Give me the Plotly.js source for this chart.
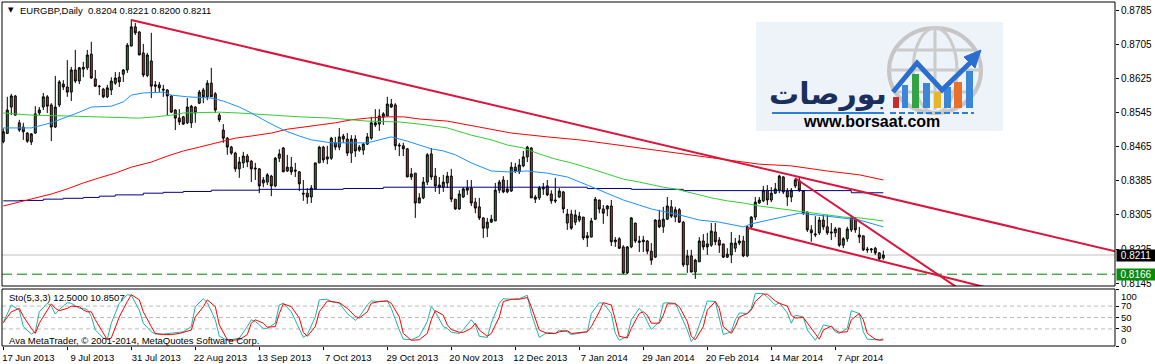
<!DOCTYPE html>
<html><head><meta charset="utf-8">
<script src="https://cdn.plot.ly/plotly-3.0.1.min.js"></script>
<style>html,body{margin:0;padding:0;background:#fff;overflow:hidden}#chart{width:1155px;height:364px}</style>
</head><body><div id="chart"></div>
<script>
// ---------------- DATA ----------------
const tickText = ['17 Jun 2013','9 Jul 2013','31 Jul 2013','22 Aug 2013','13 Sep 2013','7 Oct 2013','29 Oct 2013','20 Nov 2013','12 Dec 2013','7 Jan 2014','29 Jan 2014','20 Feb 2014','14 Mar 2014','7 Apr 2014'];
const tickBars = [0,16,32,48,64,80,96,112,128,144,160,176,192,208];

const open = [0.8477,0.8496,0.8558,0.8584,0.8521,0.8511,0.8497,0.8476,0.8497,0.8544,
0.8558,0.8582,0.8563,0.8511,0.8563,0.8612,0.8605,0.8593,0.8645,0.8619,
0.8647,0.8650,0.8682,0.8624,0.8607,0.8600,0.8582,0.8598,0.8614,0.8628,
0.8635,0.8645,0.8701,0.8746,0.8734,0.8685,0.8632,0.8666,0.8610,0.8610,
0.8600,0.8598,0.8584,0.8551,0.8532,0.8535,0.8521,0.8521,0.8558,0.8567,
0.8598,0.8582,0.8614,0.8589,0.8539,0.8504,0.8485,0.8464,0.8450,0.8413,
0.8427,0.8443,0.8431,0.8415,0.8413,0.8380,0.8382,0.8396,0.8373,0.8438,
0.8462,0.8408,0.8417,0.8410,0.8406,0.8356,0.8356,0.8347,0.8366,0.8427,
0.8464,0.8436,0.8438,0.8474,0.8464,0.8490,0.8483,0.8450,0.8483,0.8457,
0.8457,0.8471,0.8485,0.8516,0.8518,0.8535,0.8537,0.8565,0.8563,0.8469,
0.8467,0.8460,0.8394,0.8403,0.8333,0.8345,0.8382,0.8448,0.8396,0.8375,
0.8370,0.8380,0.8396,0.8342,0.8319,0.8347,0.8368,0.8368,0.8335,0.8324,
0.8298,0.8274,0.8288,0.8291,0.8363,0.8387,0.8359,0.8361,0.8417,0.8406,
0.8420,0.8441,0.8462,0.8347,0.8345,0.8366,0.8373,0.8354,0.8340,0.8347,
0.8359,0.8286,0.8307,0.8288,0.8293,0.8300,0.8251,0.8253,0.8295,0.8340,
0.8319,0.8319,0.8326,0.8242,0.8249,0.8230,0.8169,0.8230,0.8286,0.8244,
0.8242,0.8244,0.8220,0.8206,0.8293,0.8277,0.8295,0.8324,0.8300,0.8317,
0.8288,0.8188,0.8209,0.8171,0.8195,0.8244,0.8230,0.8234,0.8265,0.8246,
0.8237,0.8206,0.8211,0.8227,0.8239,0.8244,0.8209,0.8277,0.8300,0.8333,
0.8338,0.8363,0.8340,0.8356,0.8363,0.8394,0.8361,0.8347,0.8373,0.8385,
0.8361,0.8312,0.8270,0.8258,0.8263,0.8293,0.8277,0.8265,0.8263,0.8274,
0.8234,0.8249,0.8270,0.8295,0.8258,0.8256,0.8225,0.8223,0.8227,0.8216,
0.8204];
const high = [0.8508,0.8582,0.8589,0.8586,0.8528,0.8521,0.8499,0.8497,0.8560,0.8558,
0.8591,0.8586,0.8567,0.8631,0.8621,0.8621,0.8668,0.8652,0.8692,0.8652,
0.8664,0.8692,0.8711,0.8645,0.8610,0.8603,0.8610,0.8628,0.8640,0.8640,
0.8647,0.8708,0.8764,0.8755,0.8736,0.8706,0.8685,0.8732,0.8619,0.8617,
0.8610,0.8600,0.8586,0.8553,0.8553,0.8537,0.8579,0.8563,0.8560,0.8598,
0.8603,0.8621,0.8650,0.8593,0.8544,0.8518,0.8488,0.8467,0.8453,0.8441,
0.8453,0.8448,0.8434,0.8427,0.8415,0.8394,0.8403,0.8399,0.8441,0.8459,
0.8464,0.8446,0.8441,0.8427,0.8408,0.8387,0.8368,0.8375,0.8427,0.8467,
0.8467,0.8467,0.8488,0.8488,0.8509,0.8495,0.8497,0.8492,0.8492,0.8469,
0.8474,0.8497,0.8535,0.8553,0.8553,0.8546,0.8582,0.8577,0.8567,0.8474,
0.8474,0.8462,0.8415,0.8403,0.8356,0.8394,0.8450,0.8462,0.8415,0.8394,
0.8399,0.8406,0.8413,0.8342,0.8363,0.8370,0.8387,0.8387,0.8345,0.8345,
0.8300,0.8298,0.8305,0.8380,0.8387,0.8396,0.8387,0.8429,0.8427,0.8436,
0.8455,0.8467,0.8464,0.8352,0.8373,0.8380,0.8387,0.8363,0.8392,0.8368,
0.8361,0.8319,0.8317,0.8317,0.8312,0.8300,0.8265,0.8298,0.8347,0.8340,
0.8328,0.8328,0.8340,0.8253,0.8253,0.8234,0.8232,0.8300,0.8286,0.8256,
0.8256,0.8246,0.8239,0.8295,0.8317,0.8324,0.8347,0.8340,0.8324,0.8321,
0.8291,0.8223,0.8223,0.8202,0.8253,0.8260,0.8263,0.8286,0.8286,0.8253,
0.8237,0.8227,0.8265,0.8251,0.8258,0.8256,0.8279,0.8302,0.8347,0.8347,
0.8373,0.8375,0.8370,0.8380,0.8399,0.8396,0.8368,0.8368,0.8392,0.8394,
0.8363,0.8312,0.8281,0.8302,0.8300,0.8305,0.8305,0.8286,0.8277,0.8274,
0.8253,0.8277,0.8305,0.8300,0.8277,0.8256,0.8230,0.8227,0.8230,0.8218,
0.8221];
const low = [0.8473,0.8495,0.8539,0.8538,0.8500,0.8481,0.8474,0.8469,0.8495,0.8539,
0.8551,0.8544,0.8478,0.8509,0.8558,0.8598,0.8582,0.8572,0.8614,0.8612,
0.8628,0.8645,0.8624,0.8605,0.8586,0.8579,0.8579,0.8586,0.8610,0.8605,
0.8617,0.8638,0.8700,0.8727,0.8680,0.8628,0.8628,0.8579,0.8593,0.8593,
0.8582,0.8539,0.8544,0.8504,0.8516,0.8516,0.8518,0.8509,0.8521,0.8565,
0.8567,0.8574,0.8582,0.8544,0.8523,0.8474,0.8446,0.8446,0.8406,0.8392,
0.8415,0.8417,0.8382,0.8387,0.8356,0.8370,0.8375,0.8349,0.8370,0.8429,
0.8406,0.8406,0.8399,0.8394,0.8361,0.8338,0.8331,0.8333,0.8366,0.8427,
0.8427,0.8424,0.8434,0.8457,0.8457,0.8474,0.8443,0.8427,0.8441,0.8453,
0.8446,0.8469,0.8481,0.8511,0.8502,0.8516,0.8537,0.8556,0.8457,0.8443,
0.8443,0.8394,0.8387,0.8298,0.8333,0.8342,0.8375,0.8387,0.8359,0.8354,
0.8359,0.8368,0.8335,0.8317,0.8317,0.8345,0.8352,0.8326,0.8309,0.8293,
0.8251,0.8253,0.8286,0.8291,0.8356,0.8356,0.8356,0.8359,0.8403,0.8401,
0.8417,0.8429,0.8345,0.8333,0.8340,0.8352,0.8349,0.8331,0.8333,0.8345,
0.8309,0.8270,0.8270,0.8281,0.8288,0.8246,0.8230,0.8253,0.8293,0.8309,
0.8284,0.8302,0.8232,0.8230,0.8225,0.8166,0.8166,0.8227,0.8239,0.8218,
0.8218,0.8213,0.8188,0.8204,0.8274,0.8263,0.8293,0.8298,0.8288,0.8286,
0.8183,0.8169,0.8171,0.8155,0.8195,0.8223,0.8211,0.8230,0.8234,0.8216,
0.8204,0.8204,0.8192,0.8218,0.8234,0.8206,0.8206,0.8274,0.8293,0.8331,
0.8335,0.8328,0.8335,0.8354,0.8356,0.8354,0.8326,0.8335,0.8368,0.8359,
0.8305,0.8265,0.8242,0.8253,0.8258,0.8270,0.8258,0.8246,0.8253,0.8230,
0.8227,0.8242,0.8265,0.8263,0.8239,0.8220,0.8216,0.8216,0.8211,0.8199,
0.8200];
const close = [0.8500,0.8551,0.8584,0.8539,0.8504,0.8500,0.8478,0.8495,0.8542,0.8551,
0.8582,0.8560,0.8511,0.8558,0.8617,0.8605,0.8593,0.8645,0.8619,0.8650,
0.8651,0.8680,0.8626,0.8607,0.8606,0.8582,0.8603,0.8619,0.8626,0.8617,
0.8645,0.8703,0.8746,0.8732,0.8680,0.8633,0.8680,0.8607,0.8607,0.8603,
0.8598,0.8584,0.8546,0.8532,0.8523,0.8518,0.8558,0.8560,0.8544,0.8593,
0.8582,0.8614,0.8582,0.8551,0.8528,0.8485,0.8464,0.8450,0.8413,0.8429,
0.8443,0.8429,0.8413,0.8413,0.8373,0.8387,0.8399,0.8373,0.8438,0.8448,
0.8406,0.8417,0.8406,0.8408,0.8378,0.8354,0.8347,0.8368,0.8427,0.8464,
0.8434,0.8441,0.8485,0.8464,0.8488,0.8483,0.8450,0.8483,0.8455,0.8464,
0.8471,0.8488,0.8521,0.8521,0.8537,0.8542,0.8565,0.8558,0.8467,0.8467,
0.8460,0.8394,0.8401,0.8333,0.8345,0.8382,0.8446,0.8394,0.8373,0.8370,
0.8382,0.8396,0.8342,0.8319,0.8354,0.8366,0.8363,0.8333,0.8321,0.8298,
0.8274,0.8288,0.8295,0.8363,0.8382,0.8359,0.8366,0.8417,0.8408,0.8422,
0.8441,0.8464,0.8345,0.8342,0.8368,0.8370,0.8352,0.8338,0.8338,0.8361,
0.8319,0.8307,0.8274,0.8305,0.8302,0.8251,0.8256,0.8291,0.8342,0.8319,
0.8309,0.8326,0.8242,0.8246,0.8227,0.8169,0.8230,0.8298,0.8244,0.8241,
0.8246,0.8220,0.8199,0.8293,0.8277,0.8295,0.8326,0.8302,0.8317,0.8288,
0.8188,0.8209,0.8171,0.8199,0.8244,0.8230,0.8237,0.8267,0.8242,0.8234,
0.8206,0.8213,0.8239,0.8239,0.8244,0.8209,0.8277,0.8300,0.8335,0.8340,
0.8363,0.8340,0.8356,0.8366,0.8396,0.8359,0.8347,0.8363,0.8387,0.8363,
0.8309,0.8270,0.8263,0.8260,0.8293,0.8277,0.8263,0.8263,0.8272,0.8234,
0.8249,0.8272,0.8298,0.8270,0.8253,0.8223,0.8223,0.8225,0.8216,0.8202,
0.8211];

// moving averages (bar index, price)
const blueBars = [0,7,12,16,19,22,27,30,32,35,40,42,46,52,55,59,62,66,70,74,77,82,91,94,97,101,104,107,110,113,117,122,126,131,136,141,146,151,155,159,162,169,174,179,185,187,192,199,206,214,220];
const blueVals = [0.8509,0.8509,0.8521,0.8535,0.8546,0.8558,0.8560,0.8570,0.8586,0.8591,0.8593,0.8586,0.8582,0.8579,0.8572,0.8558,0.8544,0.8523,0.8504,0.8490,0.8481,0.8474,0.8474,0.8481,0.8488,0.8478,0.8469,0.8460,0.8455,0.8446,0.8427,0.8408,0.8406,0.8408,0.8403,0.8394,0.8375,0.8356,0.8340,0.8328,0.8319,0.8305,0.8293,0.8288,0.8277,0.8284,0.8295,0.8309,0.8302,0.8293,0.8277];
const greenBars = [0,7,16,24,29,34,38,42,45,50,54,59,66,74,82,91,99,104,111,117,122,126,130,134,138,142,147,151,155,159,165,168,172,177,181,185,189,193,197,202,206,210,214,220];
const greenVals = [0.8544,0.8539,0.8537,0.8535,0.8532,0.8532,0.8535,0.8539,0.8544,0.8546,0.8546,0.8544,0.8539,0.8535,0.8532,0.8525,0.8523,0.8518,0.8509,0.8492,0.8481,0.8469,0.8462,0.8448,0.8436,0.8427,0.8413,0.8401,0.8389,0.8382,0.8370,0.8366,0.8356,0.8345,0.8338,0.8333,0.8326,0.8321,0.8317,0.8309,0.8305,0.8300,0.8298,0.8291];
const redBars = [0,3,7,12,16,20,24,28,32,37,41,45,49,54,58,62,67,71,75,79,83,87,91,96,100,104,111,119,127,136,144,152,161,165,172,181,189,197,206,214,220];
const redVals = [0.8326,0.8333,0.8342,0.8354,0.8366,0.8380,0.8392,0.8403,0.8417,0.8429,0.8443,0.8455,0.8464,0.8476,0.8485,0.8490,0.8497,0.8506,0.8511,0.8516,0.8521,0.8528,0.8532,0.8535,0.8535,0.8530,0.8525,0.8511,0.8497,0.8488,0.8481,0.8471,0.8459,0.8455,0.8446,0.8434,0.8424,0.8420,0.8408,0.8399,0.8387];
const navyBars = [0,4,10,15,20,24,28,35,40,45,52,64,85,95,146,157,170,212,220];
const navyVals = [0.8338,0.8339,0.8342,0.8344,0.8346,0.8349,0.8352,0.8356,0.8358,0.8360,0.8363,0.8365,0.8367,0.8370,0.8367,0.8365,0.8362,0.8357,0.8357];

// trend lines (bar index, price)
const trend1Bars = [32,282];   const trend1Price = [0.8762,0.8211];
const trend2Bars = [198,240];  const trend2Price = [0.8391,0.8125];
const trend3Bars = [186,250];  const trend3Price = [0.8275,0.8125];
const bidPrice = 0.8211;
const levelPrice = 0.8166;
const priceTicks = [0.8785,0.8705,0.8625,0.8545,0.8465,0.8385,0.8305,0.8225,0.8145];

// stochastic (5,3,3)
const stochBars = [0,2,4,5,7,8,9,11,12,13,14,16,17,19,20,21,22,23,25,26,27,29,31,32,34,35,37,38,40,42,44,45,47,48,50,51,53,54,56,57,59,61,62,63,65,66,68,69,70,72,74,75,76,78,79,81,82,84,86,88,89,91,92,94,96,97,99,100,102,104,106,107,108,110,111,112,114,115,117,118,119,121,122,124,125,127,129,131,132,134,136,138,139,141,142,144,146,147,149,150,152,153,154,156,157,159,160,161,162,164,165,166,168,169,171,172,173,175,176,178,179,180,182,183,184,186,187,188,190,191,193,194,196,197,198,200,201,203,204,205,207,208,209,211,212,214,215,216,218,219,220];
const stochK = [41,72,63,34,21,25,60,75,70,56,64,76,75,66,66,64,52,28,14,12,40,75,90,89,63,40,25,21,21,22,24,25,34,69,83,76,46,17,10,11,14,34,46,43,31,31,40,72,75,60,28,15,20,51,81,82,78,75,57,45,51,72,79,78,79,66,28,12,11,17,43,69,60,34,31,24,22,29,46,37,17,15,40,75,83,82,83,89,57,15,24,22,28,25,20,22,25,57,76,75,57,22,10,17,46,66,57,43,29,43,75,76,75,60,28,8,17,57,79,78,46,20,25,46,58,57,66,92,92,86,72,76,58,40,54,51,28,10,22,37,34,25,22,31,62,57,25,12,11,11,12.5];
const stochD = [41,60,66,52,31,22,40,63,74,66,62,66,70,69,63,60,60,46,22,11,14,51,78,90,81,60,34,22,20,20,22,24,28,51,69,81,69,37,11,10,11,20,40,46,40,33,34,57,74,69,49,24,17,34,60,79,78,76,66,52,49,60,75,78,79,75,51,22,10,11,22,46,62,54,37,29,24,24,31,40,28,17,22,51,78,82,82,85,69,28,22,22,25,27,22,24,25,34,60,76,72,46,17,14,31,57,60,54,40,40,54,74,74,69,43,17,11,34,63,78,66,34,22,34,51,57,63,78,91,91,79,75,70,54,49,50,41,22,12,28,35,28,24,25,46,57,46,22,12,10,10.85];
const stochLevels = [30,50,70];

// ---------------- LAYOUT HELPERS (pixel -> paper) ----------------
const W = 1155, H = 364, ML = 2, MR = 40, MT = 2, MB = 18;
const PW = W - ML - MR, PH = H - MT - MB;
const X = px => (px - ML) / PW;
const Y = py => (H - MB - py) / PH;
const FONT = 'Liberation Sans, Arial, sans-serif';
const bars = open.map((_, i) => i);

const traces = [
  {type:'candlestick', x:bars, open:open, high:high, low:low, close:close, xaxis:'x', yaxis:'y',
   increasing:{line:{color:'#000000',width:1}, fillcolor:'#1F9026'},
   decreasing:{line:{color:'#000000',width:1}, fillcolor:'#E3222E'},
   whiskerwidth:0, hoverinfo:'skip'},
  {type:'scatter', mode:'lines', x:navyBars, y:navyVals, line:{color:'#000080',width:1,shape:'hv'}, hoverinfo:'skip'},
  {type:'scatter', mode:'lines', x:redBars, y:redVals, line:{color:'#FF0000',width:1}, hoverinfo:'skip'},
  {type:'scatter', mode:'lines', x:greenBars, y:greenVals, line:{color:'#32CD32',width:1}, hoverinfo:'skip'},
  {type:'scatter', mode:'lines', x:blueBars, y:blueVals, line:{color:'#1E90FF',width:1}, hoverinfo:'skip'},
  {type:'scatter', mode:'lines', x:trend1Bars, y:trend1Price, line:{color:'#DC143C',width:2}, hoverinfo:'skip'},
  {type:'scatter', mode:'lines', x:trend2Bars, y:trend2Price, line:{color:'#DC143C',width:2}, hoverinfo:'skip'},
  {type:'scatter', mode:'lines', x:trend3Bars, y:trend3Price, line:{color:'#DC143C',width:2}, hoverinfo:'skip'},
  {type:'scatter', mode:'lines', x:stochBars, y:stochK, xaxis:'x', yaxis:'y2', line:{color:'#20B2AA',width:1}, hoverinfo:'skip'},
  {type:'scatter', mode:'lines', x:stochBars, y:stochD, xaxis:'x', yaxis:'y2', line:{color:'#FF0000',width:1}, hoverinfo:'skip'}
];

const shapes = [
  {type:'line', xref:'paper', yref:'y', x0:0, x1:1, y0:bidPrice, y1:bidPrice, line:{color:'#C0C0C0',width:1}, layer:'below'},
  {type:'line', xref:'paper', yref:'y', x0:0, x1:1, y0:levelPrice, y1:levelPrice, line:{color:'#008000',width:1,dash:'10px,5px'}, layer:'below'},
  {type:'rect', xref:'paper', yref:'y domain', x0:0, x1:1, y0:0, y1:1, line:{color:'#000',width:1}, fillcolor:'rgba(0,0,0,0)', layer:'above'},
  {type:'rect', xref:'paper', yref:'y2 domain', x0:0, x1:1, y0:0, y1:1, line:{color:'#000',width:1}, fillcolor:'rgba(0,0,0,0)', layer:'above'}
];
stochLevels.forEach(v => shapes.push({type:'line', xref:'paper', yref:'y2', x0:0, x1:1, y0:v, y1:v, line:{color:'#BDBDBD',width:1,dash:'4px,3px'}, layer:'below'}));

// ---- logo (decoration) ----
const P = (pts) => 'M' + pts.map(p => X(p[0]) + ',' + Y(p[1])).join(' L') ;
shapes.push({type:'rect', xref:'paper', yref:'paper', x0:X(756), x1:X(1003), y0:Y(131), y1:Y(22), line:{width:0}, fillcolor:'#EDF3F9', layer:'above'});
shapes.push({type:'circle', xref:'paper', yref:'paper', x0:X(889), x1:X(981), y0:Y(113), y1:Y(28), line:{color:'#C6C6C6',width:4}, fillcolor:'rgba(0,0,0,0)', layer:'above'});
shapes.push({type:'circle', xref:'paper', yref:'paper', x0:X(913), x1:X(957), y0:Y(113), y1:Y(28), line:{color:'#CBCBCB',width:3}, fillcolor:'rgba(0,0,0,0)', layer:'above'});
shapes.push({type:'line', xref:'paper', yref:'paper', x0:X(935), x1:X(935), y0:Y(28), y1:Y(110), line:{color:'#CBCBCB',width:3}, layer:'above'});
[[50,897,973],[70,889,981],[92,893,977]].forEach(r => shapes.push({type:'line', xref:'paper', yref:'paper', x0:X(r[1]), x1:X(r[2]), y0:Y(r[0]), y1:Y(r[0]), line:{color:'#CBCBCB',width:3}, layer:'above'}));
[[893,899,97,'#C62D2D'],[902,908,85,'#3A86D8'],[912,919,74,'#32A345'],[923,930,83,'#3A86D8'],[934,941,92,'#E7B52C'],[944,951,87,'#3A86D8'],[954,962,82,'#E8702A'],[966,973,71,'#3A86D8']]
  .forEach(b => shapes.push({type:'rect', xref:'paper', yref:'paper', x0:X(b[0]), x1:X(b[1]), y0:Y(108), y1:Y(b[2]), line:{width:0}, fillcolor:b[3], layer:'above'}));
shapes.push({type:'line', xref:'paper', yref:'paper', x0:X(772), x1:X(884), y0:Y(113), y1:Y(113), line:{color:'#2C7FD6',width:2}, layer:'above'});
shapes.push({type:'line', xref:'paper', yref:'paper', x0:X(890), x1:X(974), y0:Y(113), y1:Y(113), line:{color:'#2C7FD6',width:2,dash:'6px,3px'}, layer:'above'});
shapes.push({type:'path', xref:'paper', yref:'paper', path:P([[893,92],[917,63],[942,90],[972,61]]), line:{color:'#2A6FD0',width:5}, layer:'above'});
shapes.push({type:'path', xref:'paper', yref:'paper', path:P([[981,50],[964,57],[975,68]]) + ' Z', line:{color:'#2A6FD0',width:1}, fillcolor:'#2A6FD0', layer:'above'});

const annotations = [
  {xref:'paper', yref:'paper', x:X(10.5), y:Y(10), text:'\u25BC', showarrow:false, font:{family:'DejaVu Sans', size:7, color:'#000'}, xanchor:'center', yanchor:'middle'},
  {xref:'paper', yref:'paper', x:X(18), y:Y(10), text:'EURGBP,Daily\u00a0\u00a00.8204 0.8221 0.8200 0.8211', showarrow:false, font:{family:FONT, size:9.5, color:'#000'}, xanchor:'left', yanchor:'middle'},
  {xref:'paper', yref:'paper', x:X(828), y:Y(93), text:'<b>بورصات</b>', showarrow:false, font:{family:'DejaVu Sans', size:30, color:'#1B2F5E'}, xanchor:'center', yanchor:'middle'},
  {xref:'paper', yref:'paper', x:X(871), y:Y(122), text:'<b>www.borsaat.com</b>', showarrow:false, font:{family:FONT, size:16, color:'#000'}, xanchor:'center', yanchor:'middle'},
  {xref:'paper', yref:'paper', x:X(7), y:Y(297), text:'Sto(5,3,3) 12.5000 10.8507', showarrow:false, font:{family:FONT, size:9.5, color:'#000'}, xanchor:'left', yanchor:'middle'},
  {xref:'paper', yref:'paper', x:X(7), y:Y(340), text:'Ava MetaTrader, \u00a9 2001-2014, MetaQuotes Software Corp.', showarrow:false, font:{family:FONT, size:9.5, color:'#000'}, xanchor:'left', yanchor:'middle'},
  {xref:'paper', yref:'paper', x:1, xshift:4, y:Y(296), text:'100', showarrow:false, font:{family:FONT, size:9.5, color:'#000'}, xanchor:'left', yanchor:'middle'},
  {xref:'paper', yref:'paper', x:1, xshift:4, y:Y(340), text:'0', showarrow:false, font:{family:FONT, size:9.5, color:'#000'}, xanchor:'left', yanchor:'middle'},
  {xref:'paper', yref:'y', x:1, xshift:1, y:bidPrice, text:bidPrice.toFixed(4), showarrow:false, font:{family:FONT, size:10, color:'#FFF'}, bgcolor:'#000', xanchor:'left', yanchor:'middle', width:36, height:9, borderpad:1, align:'center'},
  {xref:'paper', yref:'y', x:1, xshift:1, y:levelPrice, text:levelPrice.toFixed(4), showarrow:false, font:{family:FONT, size:10, color:'#FFF'}, bgcolor:'#0A8A0A', xanchor:'left', yanchor:'middle', width:36, height:9, borderpad:1, align:'center'}
];

const layout = {
  width:W, height:H, margin:{l:ML, r:MR, t:MT, b:MB, pad:0},
  paper_bgcolor:'#FFFFFF', plot_bgcolor:'#FFFFFF', showlegend:false,
  xaxis:{range:[-0.325, 277.925], anchor:'y2', showgrid:false, zeroline:false, showline:false,
         tickmode:'array', tickvals:tickBars, ticktext:tickText, ticks:'outside', ticklen:3, tickcolor:'#000',
         tickfont:{family:FONT, size:9.5, color:'#000'}, ticklabelshift:25, tickangle:0,
         rangeslider:{visible:false}, fixedrange:true},
  yaxis:{domain:[(H-MB-286)/PH, 1], range:[0.8809-0.0002345*286, 0.8809-0.0002345*2], side:'right',
         showgrid:false, zeroline:false, showline:false, tickmode:'array', tickvals:priceTicks,
         ticktext:priceTicks.map(v => v.toFixed(4)), ticks:'outside', ticklen:3, tickcolor:'#000',
         tickfont:{family:FONT, size:10, color:'#000'}, fixedrange:true},
  yaxis2:{domain:[0, (H-MB-289)/PH], range:[0,100], side:'right', showgrid:false, zeroline:false, showline:false,
          tickmode:'array', tickvals:[0,30,50,70,100], ticktext:['','30','50','70',''], ticks:'outside', ticklen:3, tickcolor:'#000',
          tickfont:{family:FONT, size:9.5, color:'#000'}, fixedrange:true},
  shapes:shapes, annotations:annotations
};

Plotly.newPlot('chart', traces, layout, {staticPlot:true, displayModeBar:false});
</script>
</body></html>
